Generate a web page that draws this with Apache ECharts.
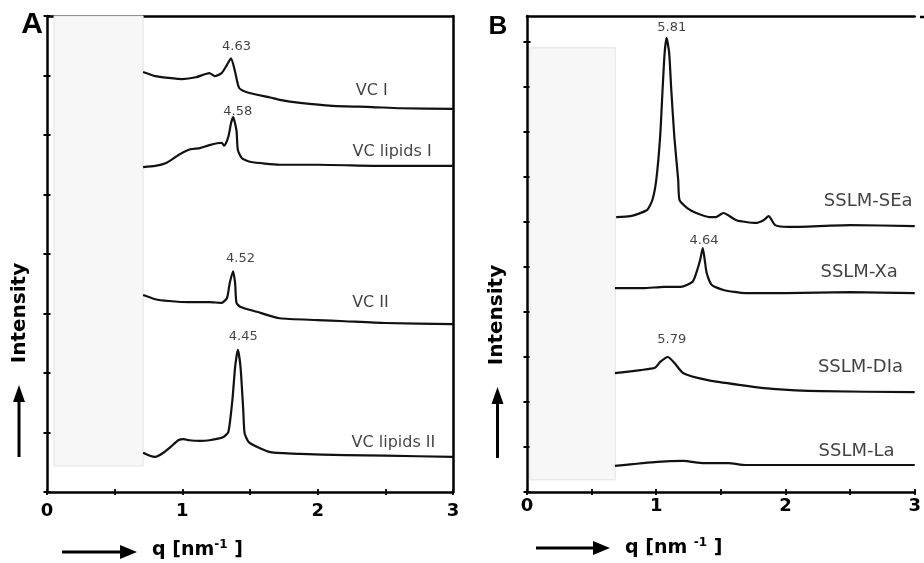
<!DOCTYPE html>
<html><head><meta charset="utf-8">
<script src="https://cdn.jsdelivr.net/npm/echarts@6/dist/echarts.min.js"></script>
<style>html,body{margin:0;padding:0;background:#fff}#c{width:924px;height:563px}</style>
</head><body><div id="c"></div><script>
// ---------- data (q in nm^-1, intensity in arbitrary offset units) ----------
const qTicks = [0, 0.5, 1, 1.5, 2, 2.5, 3];
const yTicksA = [0, 1, 2, 3, 4, 5, 6, 7, 8];
const yTicksB = [0, 1, 2, 3, 4, 5, 6, 7, 8, 9, 10];

const vcI = [[0.71,7.06],[0.80,6.99],[0.90,6.96],[1.00,6.94],[1.10,6.97],[1.20,7.04],[1.24,6.99],[1.29,7.04],[1.33,7.18],[1.36,7.29],[1.39,7.06],[1.42,6.79],[1.49,6.71],[1.65,6.63],[1.72,6.59],[1.87,6.54],[2.11,6.49],[2.40,6.47],[2.61,6.45],[3.00,6.44]];
const vcLipidsI = [[0.71,5.46],[0.80,5.48],[0.88,5.53],[0.95,5.63],[1.00,5.70],[1.06,5.76],[1.13,5.78],[1.20,5.83],[1.29,5.87],[1.31,5.82],[1.34,5.97],[1.36,6.20],[1.375,6.30],[1.40,6.08],[1.41,5.75],[1.44,5.61],[1.50,5.55],[1.72,5.50],[2.00,5.50],[2.50,5.48],[3.00,5.48]];
const vcII = [[0.71,3.31],[0.80,3.24],[0.90,3.21],[1.05,3.19],[1.20,3.19],[1.29,3.18],[1.33,3.26],[1.35,3.51],[1.375,3.71],[1.39,3.51],[1.40,3.18],[1.43,3.11],[1.55,3.03],[1.72,2.92],[2.00,2.89],[2.20,2.87],[2.50,2.84],[3.00,2.82]];
const vcLipidsII = [[0.71,0.66],[0.76,0.61],[0.80,0.59],[0.86,0.66],[0.92,0.77],[0.97,0.87],[1.01,0.89],[1.05,0.87],[1.13,0.86],[1.20,0.87],[1.30,0.92],[1.34,1.01],[1.37,1.55],[1.39,2.10],[1.41,2.39],[1.43,2.10],[1.45,1.38],[1.46,0.99],[1.49,0.84],[1.55,0.76],[1.65,0.67],[1.87,0.64],[2.20,0.62],[2.50,0.61],[3.00,0.59]];

const sslmSEa = [[0.69,6.11],[0.80,6.13],[0.86,6.18],[0.93,6.27],[0.97,6.49],[1.00,6.93],[1.03,7.89],[1.05,9.00],[1.065,9.76],[1.08,10.09],[1.10,9.76],[1.115,9.00],[1.14,7.89],[1.17,6.93],[1.18,6.49],[1.24,6.31],[1.31,6.20],[1.41,6.11],[1.46,6.11],[1.52,6.20],[1.62,6.04],[1.77,5.98],[1.83,6.04],[1.87,6.13],[1.92,5.93],[2.02,5.89],[2.50,5.93],[3.00,5.91]];
const sslmXa = [[0.68,4.53],[0.90,4.53],[1.06,4.56],[1.19,4.56],[1.28,4.67],[1.31,4.87],[1.34,5.16],[1.36,5.42],[1.375,5.16],[1.39,4.87],[1.43,4.60],[1.52,4.49],[1.69,4.42],[2.00,4.42],[2.50,4.44],[3.00,4.42]];
const sslmDIa = [[0.68,2.64],[0.88,2.71],[0.99,2.76],[1.03,2.89],[1.09,3.00],[1.14,2.87],[1.21,2.64],[1.39,2.49],[1.64,2.38],[1.90,2.29],[2.28,2.24],[3.00,2.22]];
const sslmLa = [[0.68,0.58],[1.01,0.67],[1.21,0.69],[1.37,0.64],[1.56,0.64],[1.69,0.60],[3.00,0.60]];

// d-spacing labels [text, q, y]
const peakLabelsA = [['4.63',1.40,7.48],['4.58',1.41,6.40],['4.52',1.43,3.93],['4.45',1.45,2.61]];
const curveLabelsA = [['VC I',2.40,6.74],['VC lipids I',2.55,5.71],['VC II',2.39,3.18],['VC lipids II',2.56,0.82]];
const peakLabelsB = [['5.81',1.12,10.33],['4.64',1.37,5.58],['5.79',1.12,3.38]];
const curveLabelsB = [['SSLM-SEa',2.64,6.47],['SSLM-Xa',2.57,4.89],['SSLM-DIa',2.58,2.78],['SSLM-La',2.55,0.91]];

// masked (blank) region [qMin, qMax, yMin, yMax]
const maskA = [0.052, 0.71, 0.437, 8];
const maskB = [0.023, 0.683, 0.27, 9.87];

// ---------- chart ----------
const chart = echarts.init(document.getElementById('c'), null, {renderer:'canvas'});
const FONT = 'DejaVu Sans';
const grids = [
  {left:47, top:16, width:406, height:476},
  {left:527, top:16, width:393, height:476}
];
function xAxes(gi, labelMargin){
  return [
    {gridIndex:gi, type:'value', position:'bottom', min:0, max:3, interval:0.5,
     axisLine:{show:true, onZero:false, lineStyle:{color:'#000', width:2.5}},
     axisTick:{show:true, inside:false, length:3, lineStyle:{color:'#000', width:1.8}},
     axisLabel:{show:true, margin:labelMargin, color:'#000', fontFamily:FONT, fontWeight:'bold', fontSize:18,
       formatter: v => (qTicks.includes(v) && v % 1 === 0) ? String(v) : ''},
     splitLine:{show:false}},
    {gridIndex:gi, type:'value', position:'bottom', min:0, max:3, interval:0.5,
     axisLine:{show:false}, axisTick:{show:true, inside:true, length:3, lineStyle:{color:'#000', width:1.8}},
     axisLabel:{show:false}, splitLine:{show:false}},
    {gridIndex:gi, type:'value', position:'top', min:0, max:3,
     axisLine:{show:true, onZero:false, lineStyle:{color:'#000', width:2.5}},
     axisTick:{show:false}, axisLabel:{show:false}, splitLine:{show:false}}
  ];
}
function yAxes(gi, max, ticks, rightBorder){
  const arr = [
    {gridIndex:gi, type:'value', position:'left', min:0, max:max, interval:1,
     axisLine:{show:true, onZero:false, lineStyle:{color:'#000', width:2.5}},
     axisTick:{show:true, inside:false, length:3.5, customValues:ticks, lineStyle:{color:'#000', width:2}},
     axisLabel:{show:false}, splitLine:{show:false}},
    {gridIndex:gi, type:'value', position:'left', min:0, max:max, interval:1,
     axisLine:{show:false},
     axisTick:{show:true, inside:true, length:3.5, customValues:ticks, lineStyle:{color:'#000', width:2}},
     axisLabel:{show:false}, splitLine:{show:false}}
  ];
  if (rightBorder) arr.push({gridIndex:gi, type:'value', position:'right', min:0, max:max,
     axisLine:{show:true, onZero:false, lineStyle:{color:'#000', width:2.5}},
     axisTick:{show:false}, axisLabel:{show:false}, splitLine:{show:false}});
  return arr;
}
const xA = xAxes(0, 10), xB = xAxes(1, 5);
const yA = yAxes(0, 8, yTicksA, true), yB = yAxes(1, 476/45, yTicksB, false);
const X_B = 3, Y_B = 3; // index offsets

function lineSeries(data, xi, yi, mask){
  const s = {type:'line', data:data, xAxisIndex:xi, yAxisIndex:yi, showSymbol:false, symbol:'none',
    smooth:0.2, lineStyle:{color:'#111', width:2.2, join:'round'}, z:3, silent:true, animation:false};
  if (mask) s.markArea = {silent:true, z:1,
    itemStyle:{color:'#f7f7f7', borderColor:'#e3e3e3', borderWidth:1},
    data:[[{coord:[mask[0], mask[3]]},{coord:[mask[1], mask[2]]}]]};
  return s;
}
function labelSeries(items, xi, yi, size){
  return {type:'scatter', xAxisIndex:xi, yAxisIndex:yi, symbolSize:0, silent:true, animation:false, z:5,
    data: items.map(d => ({name:d[0], value:[d[1], d[2]]})),
    label:{show:true, position:'inside', formatter: p => p.name, color:'#111',
      fontFamily:FONT, fontSize:size}};
}

const series = [
  lineSeries(vcI, 0, 0, maskA), lineSeries(vcLipidsI, 0, 0), lineSeries(vcII, 0, 0), lineSeries(vcLipidsII, 0, 0),
  lineSeries(sslmSEa, X_B, Y_B, maskB), lineSeries(sslmXa, X_B, Y_B), lineSeries(sslmDIa, X_B, Y_B), lineSeries(sslmLa, X_B, Y_B),
  labelSeries(peakLabelsA, 0, 0, 13), labelSeries(curveLabelsA, 0, 0, 16),
  labelSeries(peakLabelsB, X_B, Y_B, 13), labelSeries(curveLabelsB, X_B, Y_B, 18)
];

function arrowUp(x, yTip, yBottom){
  return [
    {type:'line', shape:{x1:x, y1:yBottom, x2:x, y2:yTip+14}, style:{stroke:'#000', lineWidth:3}},
    {type:'polygon', shape:{points:[[x, yTip],[x-6, yTip+17],[x+6, yTip+17]]}, style:{fill:'#000'}}
  ];
}
function arrowRight(y, xStart, xTip){
  return [
    {type:'line', shape:{x1:xStart, y1:y, x2:xTip-14, y2:y}, style:{stroke:'#000', lineWidth:3}},
    {type:'polygon', shape:{points:[[xTip, y],[xTip-17, y-7],[xTip-17, y+7]]}, style:{fill:'#000'}}
  ];
}
function qTitle(x, y, gap){
  return {type:'text', x:x, y:y, style:{
    text:'{a|q [nm' + gap + '}{s|-1}{a| ]}',
    verticalAlign:'middle', align:'left',
    rich:{a:{fontFamily:FONT, fontWeight:'bold', fontSize:19, fill:'#000'},
          s:{fontFamily:FONT, fontWeight:'bold', fontSize:12, fill:'#000', padding:[0,0,10,0]}}}};
}
function intensity(x, y){
  return {type:'text', x:x, y:y, rotation:Math.PI/2, style:{text:'Intensity', align:'center', verticalAlign:'middle',
    fontFamily:FONT, fontWeight:'bold', fontSize:20, fill:'#000'}};
}
const graphic = [
  {type:'text', x:32, y:25, style:{text:'A', align:'center', verticalAlign:'middle', fontFamily:'Liberation Sans', fontWeight:'bold', fontSize:30, fill:'#000'}},
  {type:'text', x:498, y:27, style:{text:'B', align:'center', verticalAlign:'middle', fontFamily:'Liberation Sans', fontWeight:'bold', fontSize:26, fill:'#000'}},
  intensity(20, 313), intensity(497, 315),
  ...arrowUp(19, 385, 457), ...arrowUp(497.5, 387, 458),
  ...arrowRight(552, 62, 137), ...arrowRight(548, 536, 610),
  qTitle(152, 550, ''), qTitle(625, 548, ' '),
  {type:'line', shape:{x1:920, y1:17, x2:924, y2:17}, style:{stroke:'#000', lineWidth:2.5}}
];

chart.setOption({
  animation:false,
  backgroundColor:'#fff',
  grid: grids,
  xAxis: [...xA, ...xB],
  yAxis: [...yA, ...yB],
  series: series,
  graphic: graphic
});
</script></body></html>
